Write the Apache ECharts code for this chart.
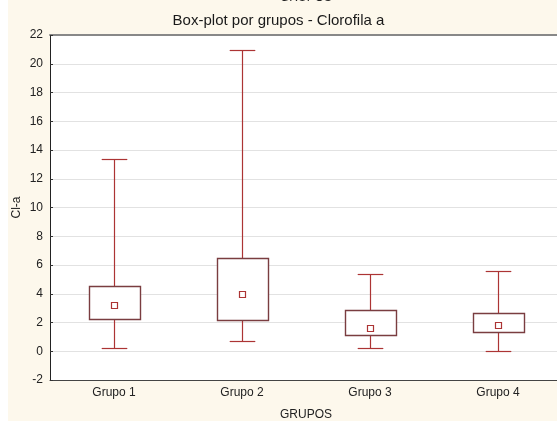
<!DOCTYPE html>
<html>
<head>
<meta charset="utf-8">
<script src="https://cdn.jsdelivr.net/npm/echarts@6/dist/echarts.min.js"></script>
<style>
html,body{margin:0;padding:0;background:#ffffff;}
#chart{width:557px;height:421px;}
</style>
</head>
<body>
<div id="chart"></div>
<script>
const categories = ['Grupo 1', 'Grupo 2', 'Grupo 3', 'Grupo 4'];
const minValues    = [0.25, 0.71, 0.25, 0.02];
const q1Values     = [2.24, 2.15, 1.15, 1.34];
const medianValues = [3.22, 3.96, 1.60, 1.83];
const q3Values     = [4.56, 6.47, 2.89, 2.68];
const maxValues    = [13.35, 20.94, 5.35, 5.58];
const yTicks = { min: -2, max: 22, interval: 2 };

const FONT = 'Arial, "Liberation Sans", sans-serif';
const WHISKER = '#ac3434';
const BOX = '#7a3d40';

const data = categories.map((c, i) => [i, minValues[i], q1Values[i], medianValues[i], q3Values[i], maxValues[i]]);

function renderItem(params, api) {
  const idx = api.value(0);
  const band = api.size([1, 0])[0];
  const pMin = api.coord([idx, api.value(1)]);
  const pQ1 = api.coord([idx, api.value(2)]);
  const pMed = api.coord([idx, api.value(3)]);
  const pQ3 = api.coord([idx, api.value(4)]);
  const pMax = api.coord([idx, api.value(5)]);
  const x = Math.round(pQ1[0]) + 0.5;
  const boxW = band * 0.4;
  const capW = band * 0.2;
  const ws = { stroke: WHISKER, lineWidth: 1.2 };
  const r = (v) => Math.round(v) + 0.5;
  return {
    type: 'group',
    children: [
      { type: 'line', shape: { x1: x, y1: r(pMax[1]), x2: x, y2: r(pQ3[1]) }, style: ws },
      { type: 'line', shape: { x1: x, y1: r(pQ1[1]), x2: x, y2: r(pMin[1]) }, style: ws },
      { type: 'line', shape: { x1: x - capW / 2, y1: r(pMax[1]), x2: x + capW / 2, y2: r(pMax[1]) }, style: ws },
      { type: 'line', shape: { x1: x - capW / 2, y1: r(pMin[1]), x2: x + capW / 2, y2: r(pMin[1]) }, style: ws },
      { type: 'rect', shape: { x: Math.round(x - boxW / 2) + 0.5, y: r(pQ3[1]), width: Math.round(boxW), height: Math.round(pQ1[1] - pQ3[1]) },
        style: { fill: '#ffffff', stroke: BOX, lineWidth: 1.4 } },
      { type: 'rect', shape: { x: x - 3, y: r(pMed[1]) - 3, width: 6, height: 6 },
        style: { fill: '#ffffff', stroke: WHISKER, lineWidth: 1.2 } }
    ]
  };
}

const chart = echarts.init(document.getElementById('chart'), null, { renderer: 'canvas' });
chart.setOption({
  backgroundColor: '#fdf8ec',
  animation: false,
  title: {
    text: 'Box-plot por grupos - Clorofila a',
    left: 'center',
    top: 8,
    textStyle: { fontFamily: FONT, fontSize: 15, fontWeight: 'normal', color: '#1a1a1a' }
  },
  graphic: [
    { type: 'rect', left: 0, top: 0, shape: { width: 8, height: 421 }, style: { fill: '#ffffff' }, silent: true }
  ],
  grid: { left: 50, top: 35, width: 512, height: 345, show: true, backgroundColor: '#ffffff', borderWidth: 0, containLabel: false, outerBoundsMode: 'none' },
  xAxis: [
    {
      type: 'category',
      data: categories,
      position: 'bottom',
      boundaryGap: true,
      name: 'GRUPOS',
      nameLocation: 'middle',
      nameGap: 29,
      nameTextStyle: { fontFamily: FONT, fontSize: 12, color: '#222' },
      axisLine: { onZero: false, lineStyle: { color: '#444', width: 1 } },
      axisTick: { inside: true, alignWithLabel: true, length: 3, lineStyle: { color: '#333' } },
      axisLabel: { fontFamily: FONT, fontSize: 12, color: '#222', margin: 7 },
      splitLine: { show: false }
    },
    {
      type: 'category',
      data: categories,
      position: 'top',
      boundaryGap: true,
      name: 'GRUPOS',
      nameLocation: 'middle',
      nameGap: 31,
      nameTextStyle: { fontFamily: FONT, fontSize: 12, color: '#222' },
      axisLine: { onZero: false, lineStyle: { color: '#888', width: 2 } },
      axisTick: { inside: true, alignWithLabel: true, length: 3, lineStyle: { color: '#333' } },
      axisLabel: { show: false }
    }
  ],
  yAxis: {
    type: 'value',
    min: yTicks.min,
    max: yTicks.max,
    interval: yTicks.interval,
    name: 'Cl-a',
    nameLocation: 'middle',
    nameGap: 27,
    nameMoveOverlap: false,
    nameTextStyle: { fontFamily: FONT, fontSize: 12, color: '#222' },
    axisLine: { show: true, onZero: false, lineStyle: { color: '#222', width: 1 } },
    axisTick: { show: true, inside: true, length: 3, lineStyle: { color: '#333' } },
    axisLabel: { fontFamily: FONT, fontSize: 12, color: '#222', margin: 7 },
    splitLine: { show: true, lineStyle: { color: '#e2e2e2', width: 1 } }
  },
  series: [{
    type: 'custom',
    xAxisIndex: 0,
    renderItem: renderItem,
    encode: { x: 0, y: [1, 2, 3, 4, 5] },
    data: data,
    clip: false
  }]
});
</script>
</body>
</html>
